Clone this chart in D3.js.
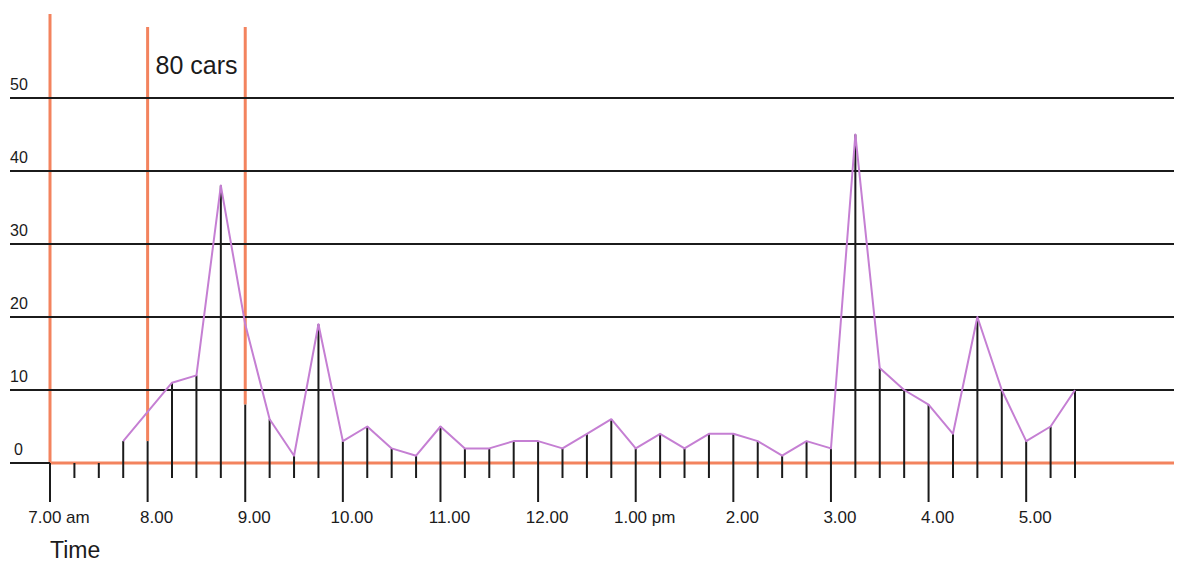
<!DOCTYPE html>
<html>
<head>
<meta charset="utf-8">
<script src="https://cdn.jsdelivr.net/npm/d3@7"></script>
<style>
  html, body { margin: 0; padding: 0; background: #fff; }
  svg { display: block; font-family: "Liberation Sans", Arial, sans-serif; }
</style>
</head>
<body>
<svg id="chart"></svg>
<script>
// Cars counted every 15 minutes, 7.00 am to 5.30 pm

const hourLabels = ["7.00 am", "8.00", "9.00", "10.00", "11.00", "12.00",
                    "1.00 pm", "2.00", "3.00", "4.00", "5.00"];
const yTicks = [0, 10, 20, 30, 40, 50];

// stick height per 15-min slot (slot 0 = 7.00)
const counts = [0, 0, 0, 3, 3, 11, 12, 38, 8, 6, 1, 19, 3, 5, 2, 1,
                5, 2, 2, 3, 3, 2, 4, 6, 2, 4, 2, 4, 4, 3, 1, 3,
                2, 45, 13, 10, 8, 4, 20, 10, 3, 5, 10];

// purple trace per slot (null = not drawn)
const trace = [null, null, null, 3, 7, 11, 12, 38, 19, 6, 1, 19, 3, 5, 2, 1,
               5, 2, 2, 3, 3, 2, 4, 6, 2, 4, 2, 4, 4, 3, 1, 3,
               2, 45, 13, 10, 8, 4, 20, 10, 3, 5, 10];

// slots with orange markers (7.00, 8.00, 9.00)
const markSlots = [0, 4, 8];
const markNote = "80 cars";

(function () {
  const W = 1178, H = 563;
  const ORANGE = "#f3835e";
  const INK = "#1b1b1b";
  const PURPLE = "#c57fd3";

  const svg = d3.select("#chart").attr("width", W).attr("height", H);

  const x = d3.scaleLinear().domain([0, counts.length - 1]).range([50, 1075]);
  const y = d3.scaleLinear().domain([0, 50]).range([463, 98]);

  const gridL = 10, gridR = 1174;

  // orange markers
  markSlots.forEach((s, i) => {
    svg.append("line")
      .attr("x1", x(s)).attr("x2", x(s))
      .attr("y1", i === 0 ? 14 : 27)
      .attr("y2", y(counts[s]))
      .attr("stroke", ORANGE).attr("stroke-width", 3);
  });

  // gridlines + labels
  yTicks.forEach(t => {
    if (t === 0) {
      svg.append("line")
        .attr("x1", gridL).attr("x2", x(0))
        .attr("y1", y(0)).attr("y2", y(0))
        .attr("stroke", INK).attr("stroke-width", 2);
      svg.append("line")
        .attr("x1", x(0)).attr("x2", gridR)
        .attr("y1", y(0)).attr("y2", y(0))
        .attr("stroke", ORANGE).attr("stroke-width", 3);
    } else {
      svg.append("line")
        .attr("x1", gridL).attr("x2", gridR)
        .attr("y1", y(t)).attr("y2", y(t))
        .attr("stroke", INK).attr("stroke-width", 2);
    }
    svg.append("text")
      .attr("x", t === 0 ? gridL + 4 : gridL).attr("y", y(t) - 8)
      .attr("font-size", 16).attr("fill", INK)
      .text(t);
  });

  // sticks
  counts.forEach((v, i) => {
    const hour = i % 4 === 0;
    svg.append("line")
      .attr("x1", x(i)).attr("x2", x(i))
      .attr("y1", y(v))
      .attr("y2", y(0) + (hour ? 39 : 15))
      .attr("stroke", INK).attr("stroke-width", 2);
  });

  // purple trace
  const line = d3.line()
    .defined(d => d !== null)
    .x((d, i) => x(i))
    .y(d => y(d));
  svg.append("path").datum(trace)
    .attr("fill", "none").attr("stroke", PURPLE)
    .attr("stroke-width", 2)
    .attr("stroke-linejoin", "round")
    .attr("d", line);

  // hour labels
  hourLabels.forEach((lab, h) => {
    svg.append("text")
      .attr("x", x(h * 4) + 9).attr("y", 523)
      .attr("text-anchor", "middle")
      .attr("font-size", 17).attr("fill", INK)
      .text(lab);
  });

  svg.append("text")
    .attr("x", 50).attr("y", 558)
    .attr("font-size", 23).attr("fill", INK)
    .text("Time");

  svg.append("text")
    .attr("x", x(markSlots[1]) + 8).attr("y", 74)
    .attr("font-size", 25).attr("fill", INK)
    .text(markNote);
})();
</script>
</body>
</html>
